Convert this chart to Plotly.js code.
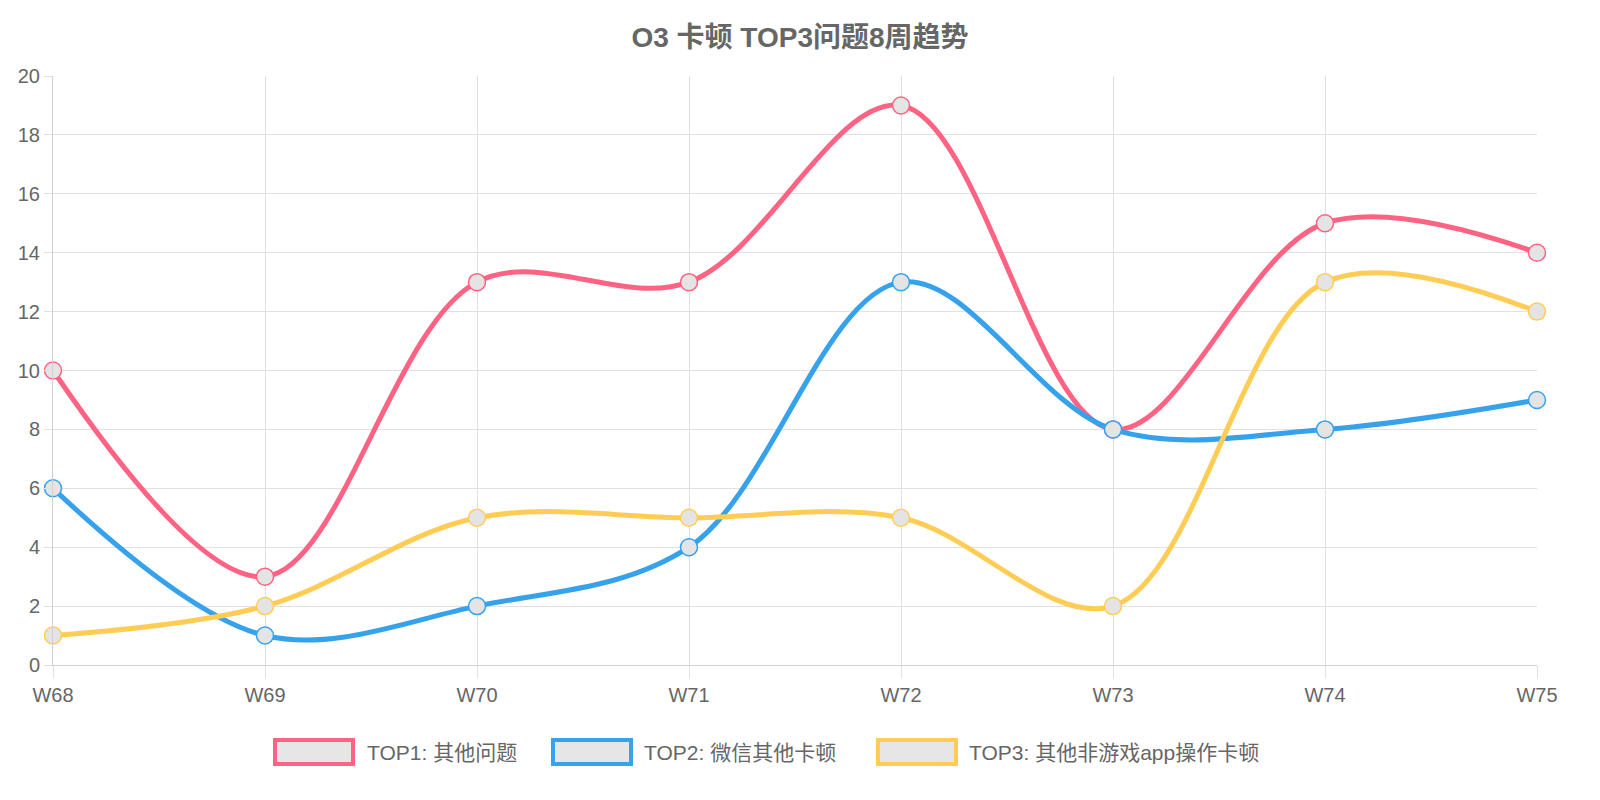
<!DOCTYPE html>
<html><head><meta charset="utf-8">
<script src="https://cdn.plot.ly/plotly-3.0.1.min.js"></script>
<style>body{margin:0;background:#fff}#chart{width:1600px;height:800px}</style>
</head><body><div id="chart"></div>
<script>
const weeks = ["W68","W69","W70","W71","W72","W73","W74","W75"];
const seriesNames = ["TOP1: 其他问题","TOP2: 微信其他卡顿","TOP3: 其他非游戏app操作卡顿"];
const top1 = [10,3,13,13,19,8,15,14];
const top2 = [6,1,2,4,13,8,8,9];
const top3 = [1,2,5,5,5,2,13,12];
const colors = ["#ff6384","#36a2eb","#ffcd56"];

const L = 53, R = 63, T = 76, B = 135, W = 1600, H = 800;
const px = x => (x - L) / (W - L - R);
const py = y => (H - B - y) / (H - T - B);

const traces = [top1, top2, top3].map((vals, i) => ({
  x: weeks, y: vals, name: seriesNames[i], mode: "lines+markers",
  line: { color: colors[i], width: 5, shape: "spline", smoothing: 1 },
  marker: { size: 17, color: "#e4e4e4", line: { color: colors[i], width: 1.5 } },
  cliponaxis: false
}));

// legend drawn as Chart.js-style boxes
const boxes = [[273, 365], [551, 642], [876, 967]];
const shapes = [], annotations = [];
boxes.forEach(([bx, tx], i) => {
  shapes.push({ type: "rect", xref: "paper", yref: "paper",
    x0: px(bx + 2), x1: px(bx + 80), y0: py(764), y1: py(740),
    fillcolor: "#e6e6e6", line: { color: colors[i], width: 4 } });
  annotations.push({ xref: "paper", yref: "paper", x: px(tx), y: py(752),
    xanchor: "left", yanchor: "middle", showarrow: false, text: seriesNames[i],
    font: { size: 21, color: "#666" } });
});

Plotly.newPlot("chart", traces, {
  width: W, height: H,
  margin: { l: L, r: R, t: T, b: B },
  paper_bgcolor: "#fff", plot_bgcolor: "#fff",
  showlegend: false,
  font: { family: "Arial, 'Noto Sans CJK SC', sans-serif", color: "#666", size: 20 },
  title: { text: "<b>O3 卡顿 TOP3问题8周趋势</b>", x: 0.5, y: 0.953, yanchor: "middle",
    font: { size: 28, color: "#666" } },
  xaxis: { type: "category", range: [0, 7], showgrid: true, gridcolor: "#e1e1e1",
    zeroline: false, showline: true, linecolor: "#d0d0d0", ticks: "outside",
    ticklen: 12, tickcolor: "#e1e1e1", tickfont: { size: 20, color: "#666" } },
  yaxis: { range: [0, 20], dtick: 2, showgrid: true, gridcolor: "#e1e1e1",
    zeroline: false, showline: true, linecolor: "#d0d0d0", ticks: "outside",
    ticklen: 8, tickcolor: "#e1e1e1", tickfont: { size: 20, color: "#666" } },
  shapes, annotations
}, { displayModeBar: false });
</script></body></html>
